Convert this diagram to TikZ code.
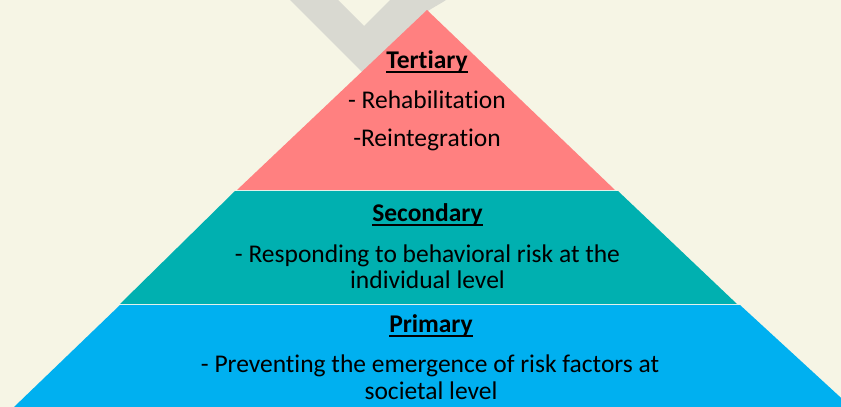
\documentclass[tikz,border=0pt]{standalone}
\usepackage{fontspec}
\setmainfont{Carlito}[Ligatures={NoCommon,NoContextual}]
\definecolor{bgcream}{RGB}{246,245,229}
\definecolor{chevgray}{RGB}{217,217,209}
\definecolor{tertpink}{RGB}{255,128,128}
\definecolor{secteal}{RGB}{0,176,176}
\definecolor{primblue}{RGB}{0,176,240}
\definecolor{seam}{RGB}{225,240,235}
\newcommand\myunderline[1]{\setbox0\hbox{#1}\rlap{\rule[-4.6pt]{\wd0}{1.7pt}}\box0}
\tikzset{
  lbl/.style={anchor=base, inner sep=0pt, font=\fontsize{25.5}{30}\selectfont, text=black},
  ttl/.style={lbl, font=\fontsize{25.5}{30}\selectfont\bfseries},
}
\begin{document}
\begin{tikzpicture}[x=1pt,y=-1pt]
\useasboundingbox (0,0) rectangle (841,407);
\fill[bgcream] (0,0) rectangle (841,407);
% grey chevron behind the apex
\fill[chevgray] (290,0) -- (338,0) -- (364,26) -- (390,0) -- (446,0)
  .. controls (440,4) and (432,8) .. (425,13) -- (364,74) -- cycle;
\begin{scope}
\clip (0,0) rectangle (841,407);
% layers
\fill[tertpink] (427,10) -- (615,190) -- (237,190) -- cycle;
\fill[secteal] (235,191) -- (618,191) -- (737,304) -- (120,304) -- cycle;
\fill[primblue] (120,305) -- (740,305) -- (851,407) -- (14,407) -- cycle;
\draw[seam, line width=0.8pt] (237,190.5) -- (616,190.5);
\draw[seam, line width=0.8pt] (120,304.5) -- (738,304.5);
\end{scope}
% texts
\node[ttl] (t1) at (427,68) {\myunderline{Tertiary}};
\node[lbl] (t2) at (427,108) {- Rehabilitation};
\node[lbl] (t3) at (427,146) {-Reintegration};
\node[ttl] (s1) at (427.5,221) {\myunderline{Secondary}};
\node[lbl] (s2) at (427.5,262) {- Responding to behavioral risk at the};
\node[lbl] (s3) at (427.5,288) {individual level};
\node[ttl] (p1) at (431,332) {\myunderline{Primary}};
\node[lbl] (p2) at (430,372) {- Preventing the emergence of risk factors at};
\node[lbl] (p3) at (431,399) {societal level};
\end{tikzpicture}
\end{document}
